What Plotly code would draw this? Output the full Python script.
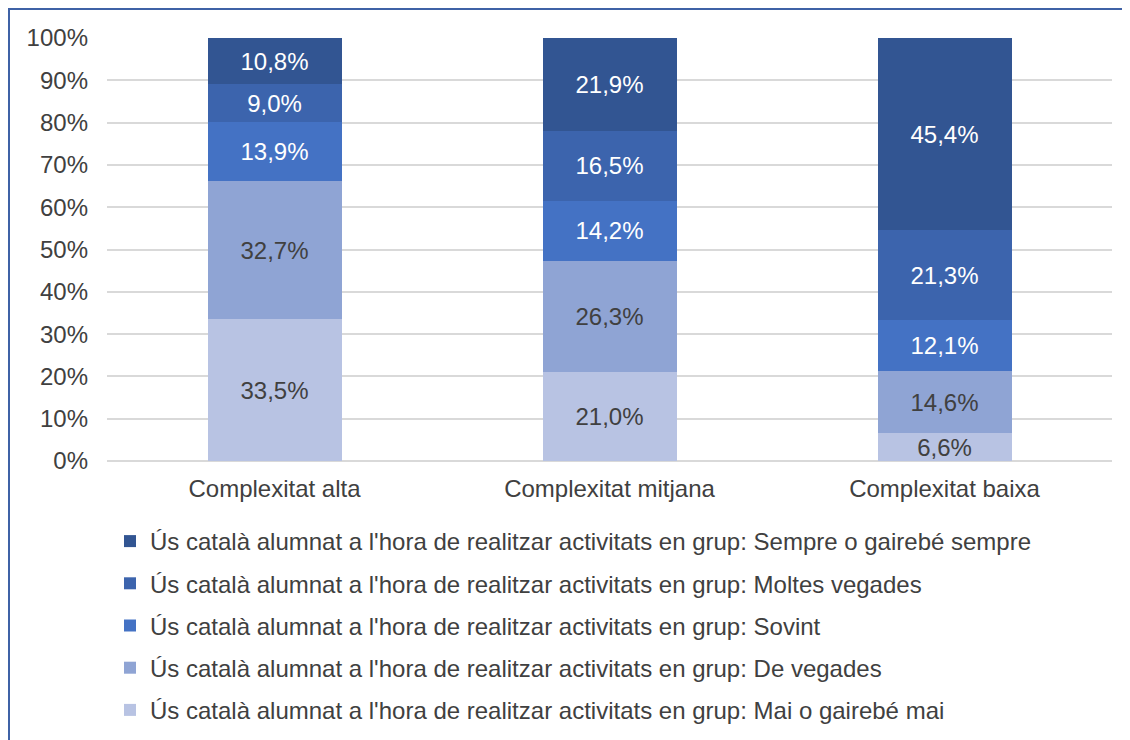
import plotly.graph_objects as go

categories = ["Complexitat alta", "Complexitat mitjana", "Complexitat baixa"]
series_names = [
    "Ús català alumnat a l'hora de realitzar activitats en grup: Mai o gairebé mai",
    "Ús català alumnat a l'hora de realitzar activitats en grup: De vegades",
    "Ús català alumnat a l'hora de realitzar activitats en grup: Sovint",
    "Ús català alumnat a l'hora de realitzar activitats en grup: Moltes vegades",
    "Ús català alumnat a l'hora de realitzar activitats en grup: Sempre o gairebé sempre",
]
mai = [33.5, 21.0, 6.6]
de_vegades = [32.7, 26.3, 14.6]
sovint = [13.9, 14.2, 12.1]
moltes = [9.0, 16.5, 21.3]
sempre = [10.8, 21.9, 45.4]
series_values = [mai, de_vegades, sovint, moltes, sempre]
colors = ["#b8c3e3", "#8fa4d4", "#4472c4", "#3c64ad", "#325592"]
text_colors = ["#404040", "#404040", "#ffffff", "#ffffff", "#ffffff"]
tick_vals = list(range(0, 101, 10))
tick_text = [f"{v}%" for v in tick_vals]

FS = 24
W, H = 1130, 740
L, R, T, B = 99, 26, 30, 287
pw, ph = W - L - R, H - T - B

fig = go.Figure()
for i, (name, vals) in enumerate(zip(series_names, series_values)):
    fig.add_trace(go.Bar(
        x=categories, y=vals, name=name,
        marker=dict(color=colors[i], line=dict(width=0)),
        text=[f"{v:.1f}".replace(".", ",") + "%" for v in vals],
        textposition="inside", insidetextanchor="middle", textangle=0,
        constraintext="none",
        textfont=dict(family="Liberation Sans, Arial", size=FS, color=text_colors[i]),
        legendgroup=f"g{i}", legendrank=10 - i, hoverinfo="skip",
    ))

fig.update_layout(
    barmode="stack", bargap=0.6,
    width=W, height=H,
    margin=dict(l=L, r=R, t=T, b=B, autoexpand=False),
    plot_bgcolor="white", paper_bgcolor="white",
    font=dict(family="Liberation Sans, Arial", size=FS, color="#404040"),
    xaxis=dict(showgrid=False, showline=False, ticks="", automargin=False,
               ticklabelstandoff=11, tickfont=dict(size=FS, color="#404040")),
    yaxis=dict(range=[0, 100], tickvals=tick_vals, ticktext=tick_text, automargin=False,
               showgrid=True, gridcolor="#d9d9d9", gridwidth=1.5,
               zeroline=True, zerolinecolor="#d9d9d9", zerolinewidth=1.5,
               ticks="", tickfont=dict(size=FS, color="#404040"), ticklabelstandoff=18),
    legend=dict(orientation="v", xref="container", yref="container",
                x=(L + 3) / W, xanchor="left", y=0.3 + 7 / H, yanchor="top",
                traceorder="grouped", tracegroupgap=8,
                font=dict(size=FS, color="#404040"), itemwidth=30,
                bgcolor="rgba(0,0,0,0)"),
    showlegend=True,
    shapes=[
        dict(type="line", xref="paper", yref="paper",
             x0=-L / pw, x1=1 + R / pw, y0=1 + (T - 1) / ph, y1=1 + (T - 1) / ph,
             line=dict(color="#3f62a6", width=2)),
        dict(type="line", xref="paper", yref="paper",
             x0=-(L - 1) / pw, x1=-(L - 1) / pw, y0=1 + T / ph, y1=-B / ph,
             line=dict(color="#3f62a6", width=2)),
    ],
)

fig.write_html("out.html")
